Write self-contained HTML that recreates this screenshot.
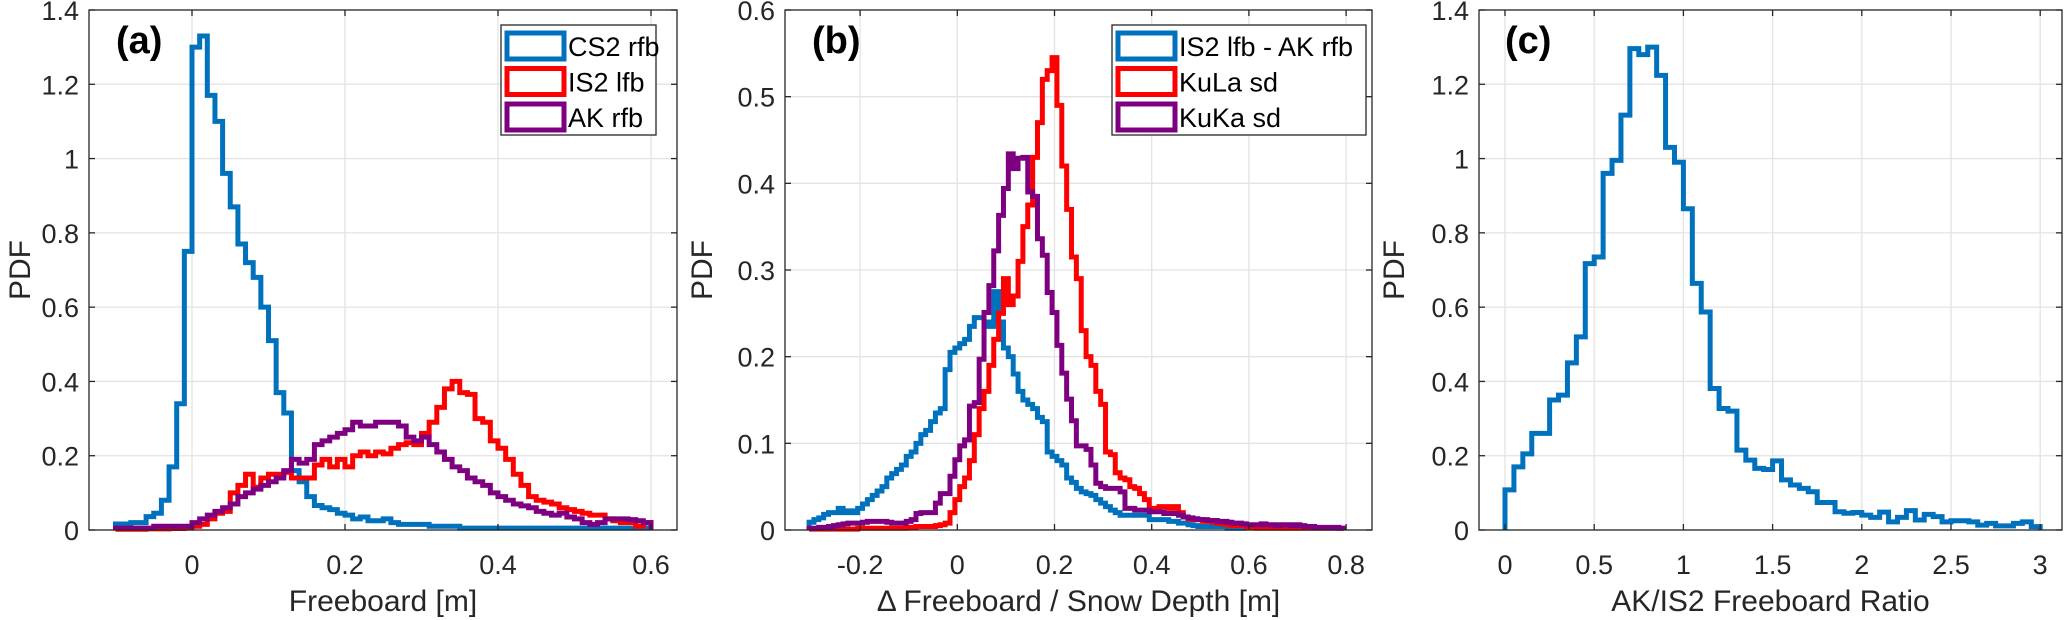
<!DOCTYPE html>
<html><head><meta charset="utf-8"><style>
html,body{margin:0;padding:0;background:#fff;}
svg{display:block;font-family:"Liberation Sans",Arial,sans-serif;}
</style></head><body>
<svg id="fig" width="2067" height="620" viewBox="0 0 2067 620" xmlns="http://www.w3.org/2000/svg"></svg>
<script>
// ---------- Panel (a) data ----------
const aStart = -0.1, aBin = 0.01;
const aCS2 = [0.016,0.016,0.02,0.02,0.036,0.045,0.08,0.17,0.34,0.75,
 1.30,1.33,1.17,1.10,0.96,0.87,0.77,0.72,0.68,0.60,
 0.51,0.37,0.315,0.16,0.13,0.09,0.066,0.06,0.055,0.045,
 0.04,0.03,0.035,0.025,0.025,0.03,0.02,0.015,0.015,0.015,
 0.015,0.01,0.01,0.01,0.01,0.005,0.005,0.005,0.005,0.005,
 0.005,0.005,0.005,0.005,0.005,0.005,0.005,0.005,0.005,0.005,
 0.005,0.005,0.005,0.005,0.005,0.005,0.005,0.005,0.005,0.005];
const aIS2 = [0.002,0.002,0.002,0.002,0.003,0.003,0.003,0.004,0.004,0.005,
 0.01,0.015,0.03,0.045,0.05,0.10,0.12,0.15,0.115,0.14,
 0.15,0.15,0.155,0.14,0.14,0.14,0.175,0.19,0.17,0.19,
 0.17,0.2,0.21,0.2,0.21,0.205,0.22,0.23,0.235,0.23,
 0.26,0.29,0.33,0.38,0.40,0.37,0.365,0.30,0.29,0.24,
 0.22,0.19,0.15,0.12,0.09,0.08,0.075,0.07,0.06,0.055,
 0.05,0.045,0.04,0.04,0.03,0.025,0.02,0.02,0.01,0.02];
const aAK = [0.005,0.005,0.005,0.005,0.005,0.01,0.01,0.01,0.01,0.01,
 0.02,0.03,0.04,0.05,0.06,0.07,0.09,0.10,0.11,0.12,
 0.13,0.14,0.16,0.19,0.18,0.19,0.23,0.24,0.25,0.26,
 0.27,0.29,0.28,0.28,0.29,0.29,0.29,0.28,0.25,0.24,
 0.25,0.23,0.21,0.19,0.17,0.16,0.14,0.13,0.12,0.10,
 0.09,0.08,0.07,0.065,0.06,0.05,0.045,0.04,0.045,0.035,
 0.03,0.02,0.015,0.02,0.03,0.03,0.03,0.028,0.025,0.02];
const aXTicks = [0,0.2,0.4,0.6];
const aXTickLabels = ["0","0.2","0.4","0.6"];
const aYTicks = [0,0.2,0.4,0.6,0.8,1,1.2,1.4];
const aYTickLabels = ["0","0.2","0.4","0.6","0.8","1","1.2","1.4"];
const aLegend = ["CS2 rfb","IS2 lfb","AK rfb"];

// ---------- Panel (b) data ----------
const bStart = -0.305, bBin = 0.01;
const bDiff = [0.009,0.012,0.014,0.018,0.02,0.02,0.025,0.02,0.022,0.02,
 0.025,0.03,0.035,0.04,0.045,0.05,0.06,0.065,0.07,0.075,
 0.085,0.09,0.1,0.11,0.115,0.125,0.135,0.14,0.185,0.205,
 0.21,0.215,0.22,0.235,0.245,0.245,0.24,0.235,0.275,0.24,
 0.21,0.2,0.18,0.16,0.15,0.145,0.14,0.13,0.125,0.09,
 0.085,0.08,0.075,0.06,0.055,0.048,0.044,0.042,0.04,0.035,
 0.031,0.027,0.023,0.02,0.017,0.017,0.017,0.017,0.017,0.017,
 0.012,0.012,0.012,0.012,0.01,0.01,0.008,0.008,0.006,0.005,
 0.004,0.004,0.004,0.004,0.004,0.004,0.002,0.002,0.002,0.002];
const bKuLa = [0.001,0.001,0.001,0.001,0.001,0.001,0.001,0.001,0.001,0.001,
 0.002,0.002,0.002,0.002,0.002,0.002,0.002,0.002,0.002,0.002,
 0.003,0.003,0.004,0.004,0.004,0.004,0.005,0.006,0.008,0.02,
 0.035,0.05,0.06,0.08,0.11,0.14,0.16,0.19,0.22,0.25,
 0.29,0.26,0.27,0.31,0.35,0.375,0.43,0.47,0.52,0.53,
 0.545,0.49,0.42,0.37,0.315,0.29,0.23,0.2,0.19,0.16,
 0.145,0.09,0.087,0.066,0.06,0.058,0.05,0.048,0.042,0.035,
 0.025,0.025,0.027,0.027,0.025,0.027,0.02,0.015,0.013,0.012,
 0.012,0.01,0.01,0.009,0.008,0.007,0.006,0.005,0.005,0.005,
 0.003,0.003,0.002,0.002,0.002,0.002,0.002,0.002,0.002,0.002,
 0.002,0.002,0.002,0.002,0.002,0.002,0.002,0.002,0.002,0.002];
const bKuKa = [0.002,0.002,0.003,0.003,0.004,0.005,0.006,0.007,0.008,0.008,
 0.008,0.009,0.01,0.01,0.01,0.01,0.009,0.008,0.008,0.008,
 0.01,0.012,0.019,0.02,0.02,0.02,0.031,0.042,0.042,0.062,
 0.081,0.097,0.104,0.143,0.147,0.197,0.251,0.282,0.322,0.363,
 0.394,0.434,0.417,0.429,0.43,0.39,0.385,0.336,0.317,0.274,
 0.251,0.213,0.181,0.151,0.126,0.097,0.097,0.093,0.075,0.054,
 0.05,0.048,0.048,0.048,0.044,0.025,0.025,0.023,0.023,0.023,
 0.021,0.021,0.021,0.019,0.019,0.019,0.017,0.015,0.014,0.013,
 0.012,0.012,0.011,0.011,0.01,0.01,0.009,0.008,0.008,0.007,
 0.006,0.006,0.006,0.007,0.006,0.006,0.005,0.006,0.006,0.005,
 0.006,0.005,0.004,0.004,0.003,0.003,0.003,0.003,0.003,0.002];
const bXTicks = [-0.2,0,0.2,0.4,0.6,0.8];
const bXTickLabels = ["-0.2","0","0.2","0.4","0.6","0.8"];
const bYTicks = [0,0.1,0.2,0.3,0.4,0.5,0.6];
const bYTickLabels = ["0","0.1","0.2","0.3","0.4","0.5","0.6"];
const bLegend = ["IS2 lfb - AK rfb","KuLa sd","KuKa sd"];

// ---------- Panel (c) data ----------
const cStart = 0, cBin = 0.05;
const cRatio = [0.108,0.17,0.205,0.26,0.26,0.35,0.363,0.45,0.52,0.717,
 0.735,0.96,0.995,1.117,1.296,1.28,1.30,1.224,1.03,0.99,
 0.865,0.664,0.587,0.381,0.327,0.32,0.215,0.188,0.166,0.163,
 0.186,0.135,0.121,0.112,0.103,0.074,0.074,0.049,0.045,0.047,
 0.04,0.034,0.048,0.022,0.034,0.052,0.027,0.042,0.036,0.022,
 0.025,0.025,0.022,0.013,0.018,0.011,0.011,0.018,0.022,0.009];
const cXTicks = [0,0.5,1,1.5,2,2.5,3];
const cXTickLabels = ["0","0.5","1","1.5","2","2.5","3"];
const cYTicks = [0,0.2,0.4,0.6,0.8,1,1.2,1.4];
const cYTickLabels = ["0","0.2","0.4","0.6","0.8","1","1.2","1.4"];

const BLUE="#0072BD", RED="#FF0000", PURPLE="#7E0080";
const NS="http://www.w3.org/2000/svg";
const svg=document.getElementById('fig');
function mk(tag,attrs,parent){const e=document.createElementNS(NS,tag);for(const k in attrs)e.setAttribute(k,attrs[k]);(parent||svg).appendChild(e);return e;}

function panel(cfg){
  const g=mk('g',{});
  
  
  const X=v=>cfg.x0+(v-cfg.xv0)*cfg.xs;
  const Y=v=>cfg.yBot-(v/cfg.yMax)*(cfg.yBot-cfg.yTop);
  cfg.xTicks.forEach(t=>{
    const l=mk('line',{x1:X(t),x2:X(t),y1:cfg.yTop,y2:cfg.yBot,stroke:'#e3e3e3','stroke-width':1.3},g);
    
    
  });
  cfg.yTicks.forEach(t=>{
    const l=mk('line',{x1:cfg.left,x2:cfg.right,y1:Y(t),y2:Y(t),stroke:'#e3e3e3','stroke-width':1.3},g);
    
    
  });
  cfg.series.forEach(s=>{
    let d='M'+X(s.start)+','+Y(0);
    s.vals.forEach((v,i)=>{const x0=X(s.start+i*s.bin),x1=X(s.start+(i+1)*s.bin);d+=' L'+x0+','+Y(v)+' L'+x1+','+Y(v);});
    d+=' L'+X(s.start+s.vals.length*s.bin)+','+Y(0);
    const p=mk('path',{d:d,fill:'none',stroke:s.color,'stroke-width':5,'stroke-linejoin':'miter'},g);
    
    
  });
  const box=mk('rect',{x:cfg.left,y:cfg.yTop,width:cfg.right-cfg.left,height:cfg.yBot-cfg.yTop,fill:'none',stroke:'#262626','stroke-width':1.3},g);
  
  
  cfg.xTicks.forEach((t,i)=>{
    mk('line',{x1:X(t),x2:X(t),y1:cfg.yBot,y2:cfg.yBot-6,stroke:'#262626','stroke-width':1.3},g);
    mk('line',{x1:X(t),x2:X(t),y1:cfg.yTop,y2:cfg.yTop+6,stroke:'#262626','stroke-width':1.3},g);
    const tx=mk('text',{x:X(t),y:574,'text-anchor':'middle','font-size':27,fill:'#262626'},g);
    tx.textContent=cfg.xLabels[i];
    
    
  });
  cfg.yTicks.forEach((t,i)=>{
    mk('line',{x1:cfg.left,x2:cfg.left+6,y1:Y(t),y2:Y(t),stroke:'#262626','stroke-width':1.3},g);
    mk('line',{x1:cfg.right,x2:cfg.right-6,y1:Y(t),y2:Y(t),stroke:'#262626','stroke-width':1.3},g);
    const tx=mk('text',{x:cfg.left-10,y:Y(t)+10,'text-anchor':'end','font-size':27,fill:'#262626'},g);
    tx.textContent=cfg.yLabels[i];
    
    
  });
  const xl=mk('text',{x:(cfg.left+cfg.right)/2,y:611,'text-anchor':'middle','font-size':30,fill:'#262626'},g);
  xl.textContent=cfg.xTitle;
  
  
  const yl=mk('text',{x:0,y:0,'text-anchor':'middle','font-size':30,fill:'#262626',transform:'translate('+cfg.yTitleX+','+((cfg.yTop+cfg.yBot)/2)+') rotate(-90)'},g);
  yl.textContent='PDF';
  
  
  const pl=mk('text',{x:cfg.tagX,y:53,'font-size':38,'font-weight':'bold',fill:'#000'},g);
  pl.textContent=cfg.tag;
  
  
  if(cfg.legend){
    const L=cfg.legend;
    const lg=mk('g',{},g);
    
    
    mk('rect',{x:L.x,y:25,width:L.w,height:110,fill:'#fff',stroke:'#262626','stroke-width':1.3},lg);
    cfg.series.forEach((s,i)=>{
      const cy=46+i*35.5;
      const sw=mk('rect',{x:L.x+6,y:cy-13,width:57,height:26,fill:'none',stroke:s.color,'stroke-width':5},lg);
      
      
      const t=mk('text',{x:L.x+67,y:cy+10,'font-size':27,fill:'#000'},lg);
      t.textContent=L.labels[i];
      
      
    });
  }
}

panel({name:'panel-a',left:89,right:677,yTop:10,yBot:530,x0:192,xv0:0,xs:765,yMax:1.4,
  xTicks:aXTicks,xLabels:aXTickLabels,yTicks:aYTicks,yLabels:aYTickLabels,
  xTitle:'Freeboard [m]',yTitleX:30,tag:'(a)',tagX:116,
  series:[{name:'cs2-rfb-histogram',start:aStart,bin:aBin,vals:aCS2,color:BLUE},
          {name:'is2-lfb-histogram',start:aStart,bin:aBin,vals:aIS2,color:RED},
          {name:'ak-rfb-histogram',start:aStart,bin:aBin,vals:aAK,color:PURPLE}],
  legend:{x:501,w:155,labels:aLegend}});
panel({name:'panel-b',left:785,right:1372,yTop:10,yBot:530,x0:957.3,xv0:0,xs:486,yMax:0.6,
  xTicks:bXTicks,xLabels:bXTickLabels,yTicks:bYTicks,yLabels:bYTickLabels,
  xTitle:'\u0394 Freeboard / Snow Depth [m]',yTitleX:712,tag:'(b)',tagX:812,
  series:[{name:'is2-minus-ak-histogram',start:bStart,bin:bBin,vals:bDiff,color:BLUE},
          {name:'kula-sd-histogram',start:bStart,bin:bBin,vals:bKuLa,color:RED},
          {name:'kuka-sd-histogram',start:bStart,bin:bBin,vals:bKuKa,color:PURPLE}],
  legend:{x:1112,w:254,labels:bLegend}});
panel({name:'panel-c',left:1479,right:2062,yTop:10,yBot:530,x0:1505,xv0:0,xs:178.4,yMax:1.4,
  xTicks:cXTicks,xLabels:cXTickLabels,yTicks:cYTicks,yLabels:cYTickLabels,
  xTitle:'AK/IS2 Freeboard Ratio',yTitleX:1404,tag:'(c)',tagX:1505,
  series:[{name:'ratio-histogram',start:cStart,bin:cBin,vals:cRatio,color:BLUE}]});
</script>
</body></html>
